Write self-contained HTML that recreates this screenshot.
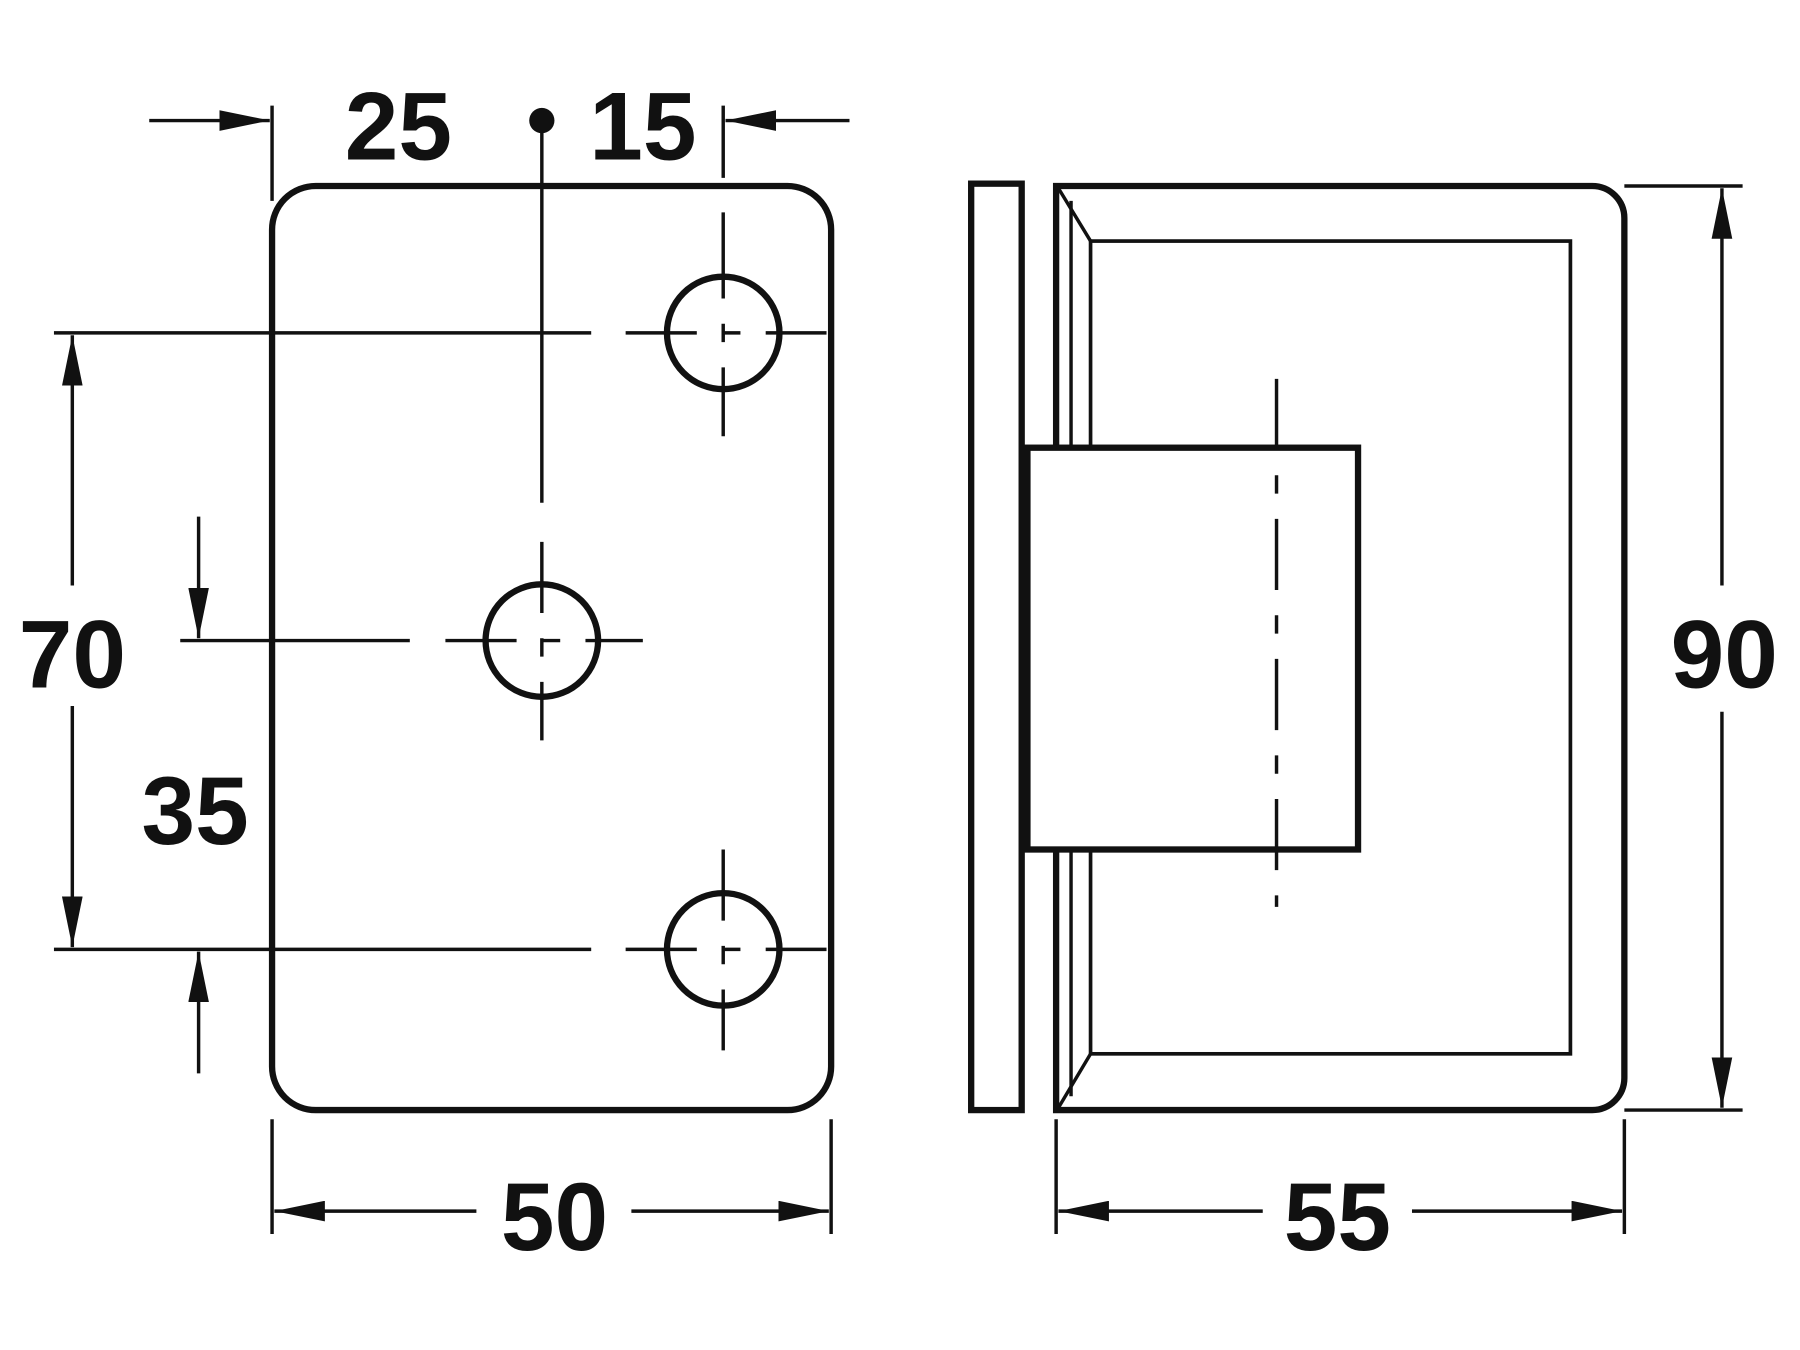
<!DOCTYPE html>
<html><head><meta charset="utf-8"><style>
html,body{margin:0;padding:0;background:#fff;}
svg{display:block;}
text{font-family:"Liberation Sans",Arial,sans-serif;font-weight:bold;font-size:84px;fill:#111;text-anchor:middle;}
</style></head><body>
<svg width="1800" height="1350" viewBox="0 0 1568 1176" xmlns="http://www.w3.org/2000/svg">
<defs>
<marker id="a" viewBox="0 0 44 18" refX="44" refY="9" markerWidth="44" markerHeight="18" markerUnits="userSpaceOnUse" orient="auto">
<path d="M0,0 L44,9 L0,18 Z" fill="#111"/></marker>
</defs>
<rect width="1568" height="1176" fill="#fff"/>
<g stroke="#111" fill="none">
<rect x="237" y="162" width="487" height="805" rx="38" stroke-width="5.5"/>
<circle cx="630" cy="290" r="49" stroke-width="5.5"/>
<circle cx="472" cy="558" r="49" stroke-width="5.5"/>
<circle cx="630" cy="827" r="49" stroke-width="5.5"/>
<g stroke-width="3">
<line x1="237" y1="92" x2="237" y2="175"/>
<line x1="630" y1="92" x2="630" y2="155"/>
<line x1="130" y1="105" x2="235" y2="105" marker-end="url(#a)"/>
<line x1="740" y1="105" x2="632" y2="105" marker-end="url(#a)"/>
<line x1="472" y1="105" x2="472" y2="438"/>
<line x1="630" y1="185" x2="630" y2="380" stroke-dasharray="75 22 16 22"/>
<line x1="630" y1="740" x2="630" y2="915" stroke-dasharray="62 22 16 22"/>
<line x1="472" y1="472" x2="472" y2="645" stroke-dasharray="62 22 16 22"/>
<line x1="47" y1="290" x2="515" y2="290"/>
<line x1="545" y1="290" x2="720" y2="290" stroke-dasharray="62 22 16 22"/>
<line x1="47" y1="827" x2="515" y2="827"/>
<line x1="545" y1="827" x2="720" y2="827" stroke-dasharray="62 22 16 22"/>
<line x1="157" y1="558" x2="357" y2="558"/>
<line x1="388" y1="558" x2="560" y2="558" stroke-dasharray="62 22 16 22"/>
<line x1="63" y1="510" x2="63" y2="292" marker-end="url(#a)"/>
<line x1="63" y1="615" x2="63" y2="825" marker-end="url(#a)"/>
<line x1="173" y1="450" x2="173" y2="556" marker-end="url(#a)"/>
<line x1="173" y1="935" x2="173" y2="829" marker-end="url(#a)"/>
<line x1="237" y1="975" x2="237" y2="1075"/>
<line x1="724" y1="975" x2="724" y2="1075"/>
<line x1="415" y1="1055" x2="239" y2="1055" marker-end="url(#a)"/>
<line x1="550" y1="1055" x2="722" y2="1055" marker-end="url(#a)"/>
<line x1="1415" y1="162" x2="1518" y2="162"/>
<line x1="1415" y1="967" x2="1518" y2="967"/>
<line x1="1500" y1="510" x2="1500" y2="164" marker-end="url(#a)"/>
<line x1="1500" y1="620" x2="1500" y2="965" marker-end="url(#a)"/>
<line x1="920" y1="975" x2="920" y2="1075"/>
<line x1="1415" y1="975" x2="1415" y2="1075"/>
<line x1="1100" y1="1055" x2="922" y2="1055" marker-end="url(#a)"/>
<line x1="1230" y1="1055" x2="1413" y2="1055" marker-end="url(#a)"/>
<rect x="950" y="210" width="418" height="708" stroke-width="3.2"/>
<line x1="922" y1="164" x2="950" y2="210"/>
<line x1="922" y1="965" x2="950" y2="918"/>
<line x1="933" y1="175" x2="933" y2="390"/>
<line x1="933" y1="740" x2="933" y2="955"/>
</g>
<rect x="846" y="160" width="44" height="807" stroke-width="5.5"/>
<path d="M920,162 H1387 A28,28 0 0 1 1415,190 V939 A28,28 0 0 1 1387,967 H920 Z" stroke-width="5.5"/>
<rect x="895" y="390" width="288" height="350" stroke-width="5.5" fill="#fff"/>
</g>
<line x1="1112" y1="330" x2="1112" y2="790" stroke="#111" stroke-width="3" stroke-dasharray="62 22 16 22"/>
<circle cx="472" cy="105" r="11" fill="#111"/>
<text x="347" y="139">25</text>
<text x="560" y="139">15</text>
<text x="63" y="599">70</text>
<text x="170" y="735">35</text>
<text x="483" y="1089">50</text>
<text x="1165" y="1089">55</text>
<text x="1502" y="599">90</text>
</svg>
</body></html>
